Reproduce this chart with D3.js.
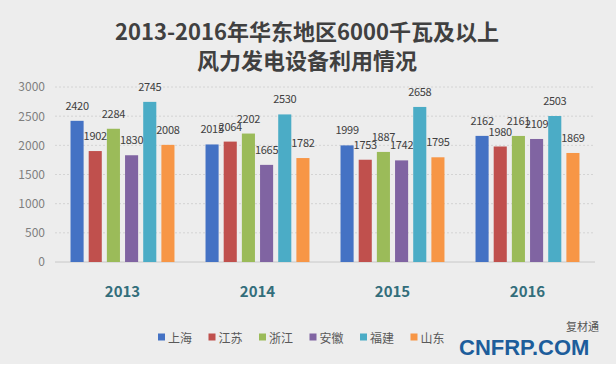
<!DOCTYPE html>
<html>
<head>
<meta charset="utf-8">
<script src="https://cdn.jsdelivr.net/npm/d3@7"></script>
<style>
  body { margin: 0; background: #fff; }
  svg { display: block; }
</style>
</head>
<body>
<svg id="chart" width="616" height="371"></svg>
<script>
// data
const years = ["2013", "2014", "2015", "2016"];
const provinces = ["上海", "江苏", "浙江", "安徽", "福建", "山东"];
const shanghai = [2420, 2015, 1999, 2162];
const jiangsu  = [1902, 2064, 1753, 1980];
const zhejiang = [2284, 2202, 1887, 2161];
const anhui    = [1830, 1665, 1742, 2109];
const fujian   = [2745, 2530, 2658, 2503];
const shandong = [2008, 1782, 1795, 1869];
const yTicks = [0, 500, 1000, 1500, 2000, 2500, 3000];
const titleLines = ["2013-2016年华东地区6000千瓦及以上", "风力发电设备利用情况"];

const seriesValues = [shanghai, jiangsu, zhejiang, anhui, fujian, shandong];
const colors = ["#4472c4", "#c0504d", "#9bbb59", "#8064a2", "#4bacc6", "#f79646"];

const svg = d3.select("#chart");
const font = "'Noto Sans CJK SC', 'Noto Sans', sans-serif";

// background panel
svg.append("rect")
    .attr("x", 0).attr("y", 0)
    .attr("width", 616).attr("height", 364)
    .attr("fill", "#ededed");

// title
svg.append("g").selectAll("text")
    .data(titleLines)
    .join("text")
    .attr("x", 307)
    .attr("y", (d, i) => 30 + i * 29)
    .attr("text-anchor", "middle")
    .attr("dominant-baseline", "central")
    .attr("font-family", font)
    .attr("font-weight", "bold")
    .attr("font-size", 22)
    .attr("fill", "#404040")
    .text(d => d);

const x0 = d3.scaleBand().domain(years).range([55, 595]).paddingInner(0.23).paddingOuter(0.115);
const x1 = d3.scaleBand().domain(provinces).range([0, x0.bandwidth()]).paddingInner(0.28);
const y = d3.scaleLinear().domain([0, 3000]).range([262, 87]);

// gridlines
svg.append("g").selectAll("line")
    .data(yTicks.filter(t => t > 0))
    .join("line")
    .attr("x1", 55).attr("x2", 595)
    .attr("y1", d => y(d)).attr("y2", d => y(d))
    .attr("stroke", "#d4d4d4")
    .attr("stroke-dasharray", "2,2");

// y axis labels
const yAxis = svg.append("g")
    .attr("transform", "translate(47,0)")
    .call(d3.axisLeft(y).tickValues(yTicks).tickFormat(d3.format("d")).tickSize(0).tickPadding(2));
yAxis.select(".domain").remove();
yAxis.selectAll("text")
    .attr("font-family", font)
    .attr("font-size", 12)
    .attr("fill", "#7f7f7f");

// baseline
svg.append("line")
    .attr("x1", 55).attr("x2", 595)
    .attr("y1", y(0)).attr("y2", y(0))
    .attr("stroke", "#c8c8c8");

// bars
const groups = svg.append("g").selectAll("g")
    .data(years)
    .join("g")
    .attr("transform", d => `translate(${x0(d)},0)`);

const cells = (yr, yi) => provinces.map((p, pi) => ({ p, pi, v: seriesValues[pi][yi] }));

groups.selectAll("rect")
    .data(cells)
    .join("rect")
    .attr("x", d => x1(d.p))
    .attr("y", d => y(d.v))
    .attr("width", x1.bandwidth())
    .attr("height", d => y(0) - y(d.v))
    .attr("fill", d => colors[d.pi]);

groups.selectAll("text")
    .data(cells)
    .join("text")
    .attr("x", d => x1(d.p) + x1.bandwidth() / 2)
    .attr("y", d => y(d.v) - 16)
    .attr("text-anchor", "middle")
    .attr("dominant-baseline", "central")
    .attr("font-family", font)
    .attr("font-size", 11)
    .attr("letter-spacing", -0.3)
    .attr("fill", "#404040")
    .text(d => d.v);

// year labels
svg.append("g").selectAll("text")
    .data(years)
    .join("text")
    .attr("x", d => x0(d) + x0.bandwidth() / 2)
    .attr("y", 290)
    .attr("text-anchor", "middle")
    .attr("dominant-baseline", "central")
    .attr("font-family", font)
    .attr("font-weight", "bold")
    .attr("font-size", 15)
    .attr("fill", "#336e7b")
    .text(d => d);

// legend
const legend = svg.append("g").selectAll("g")
    .data(provinces)
    .join("g")
    .attr("transform", (d, i) => `translate(${158 + i * 50.5},337)`);
legend.append("rect")
    .attr("x", 0).attr("y", -3.5)
    .attr("width", 7).attr("height", 7)
    .attr("fill", (d, i) => colors[i]);
legend.append("text")
    .attr("x", 10)
    .attr("dominant-baseline", "central")
    .attr("font-family", font)
    .attr("font-size", 12)
    .attr("fill", "#595959")
    .text(d => d);

// watermark
svg.append("text")
    .attr("x", 459).attr("y", 347)
    .attr("dominant-baseline", "central")
    .attr("font-family", "'Liberation Sans', sans-serif")
    .attr("font-weight", "bold")
    .attr("font-size", 22)
    .attr("fill", "#1d5d9b")
    .text("CNFRP.COM");
svg.append("text")
    .attr("x", 566).attr("y", 326)
    .attr("dominant-baseline", "central")
    .attr("font-family", font)
    .attr("font-size", 11)
    .attr("fill", "#555")
    .text("复材通");
</script>
</body>
</html>
